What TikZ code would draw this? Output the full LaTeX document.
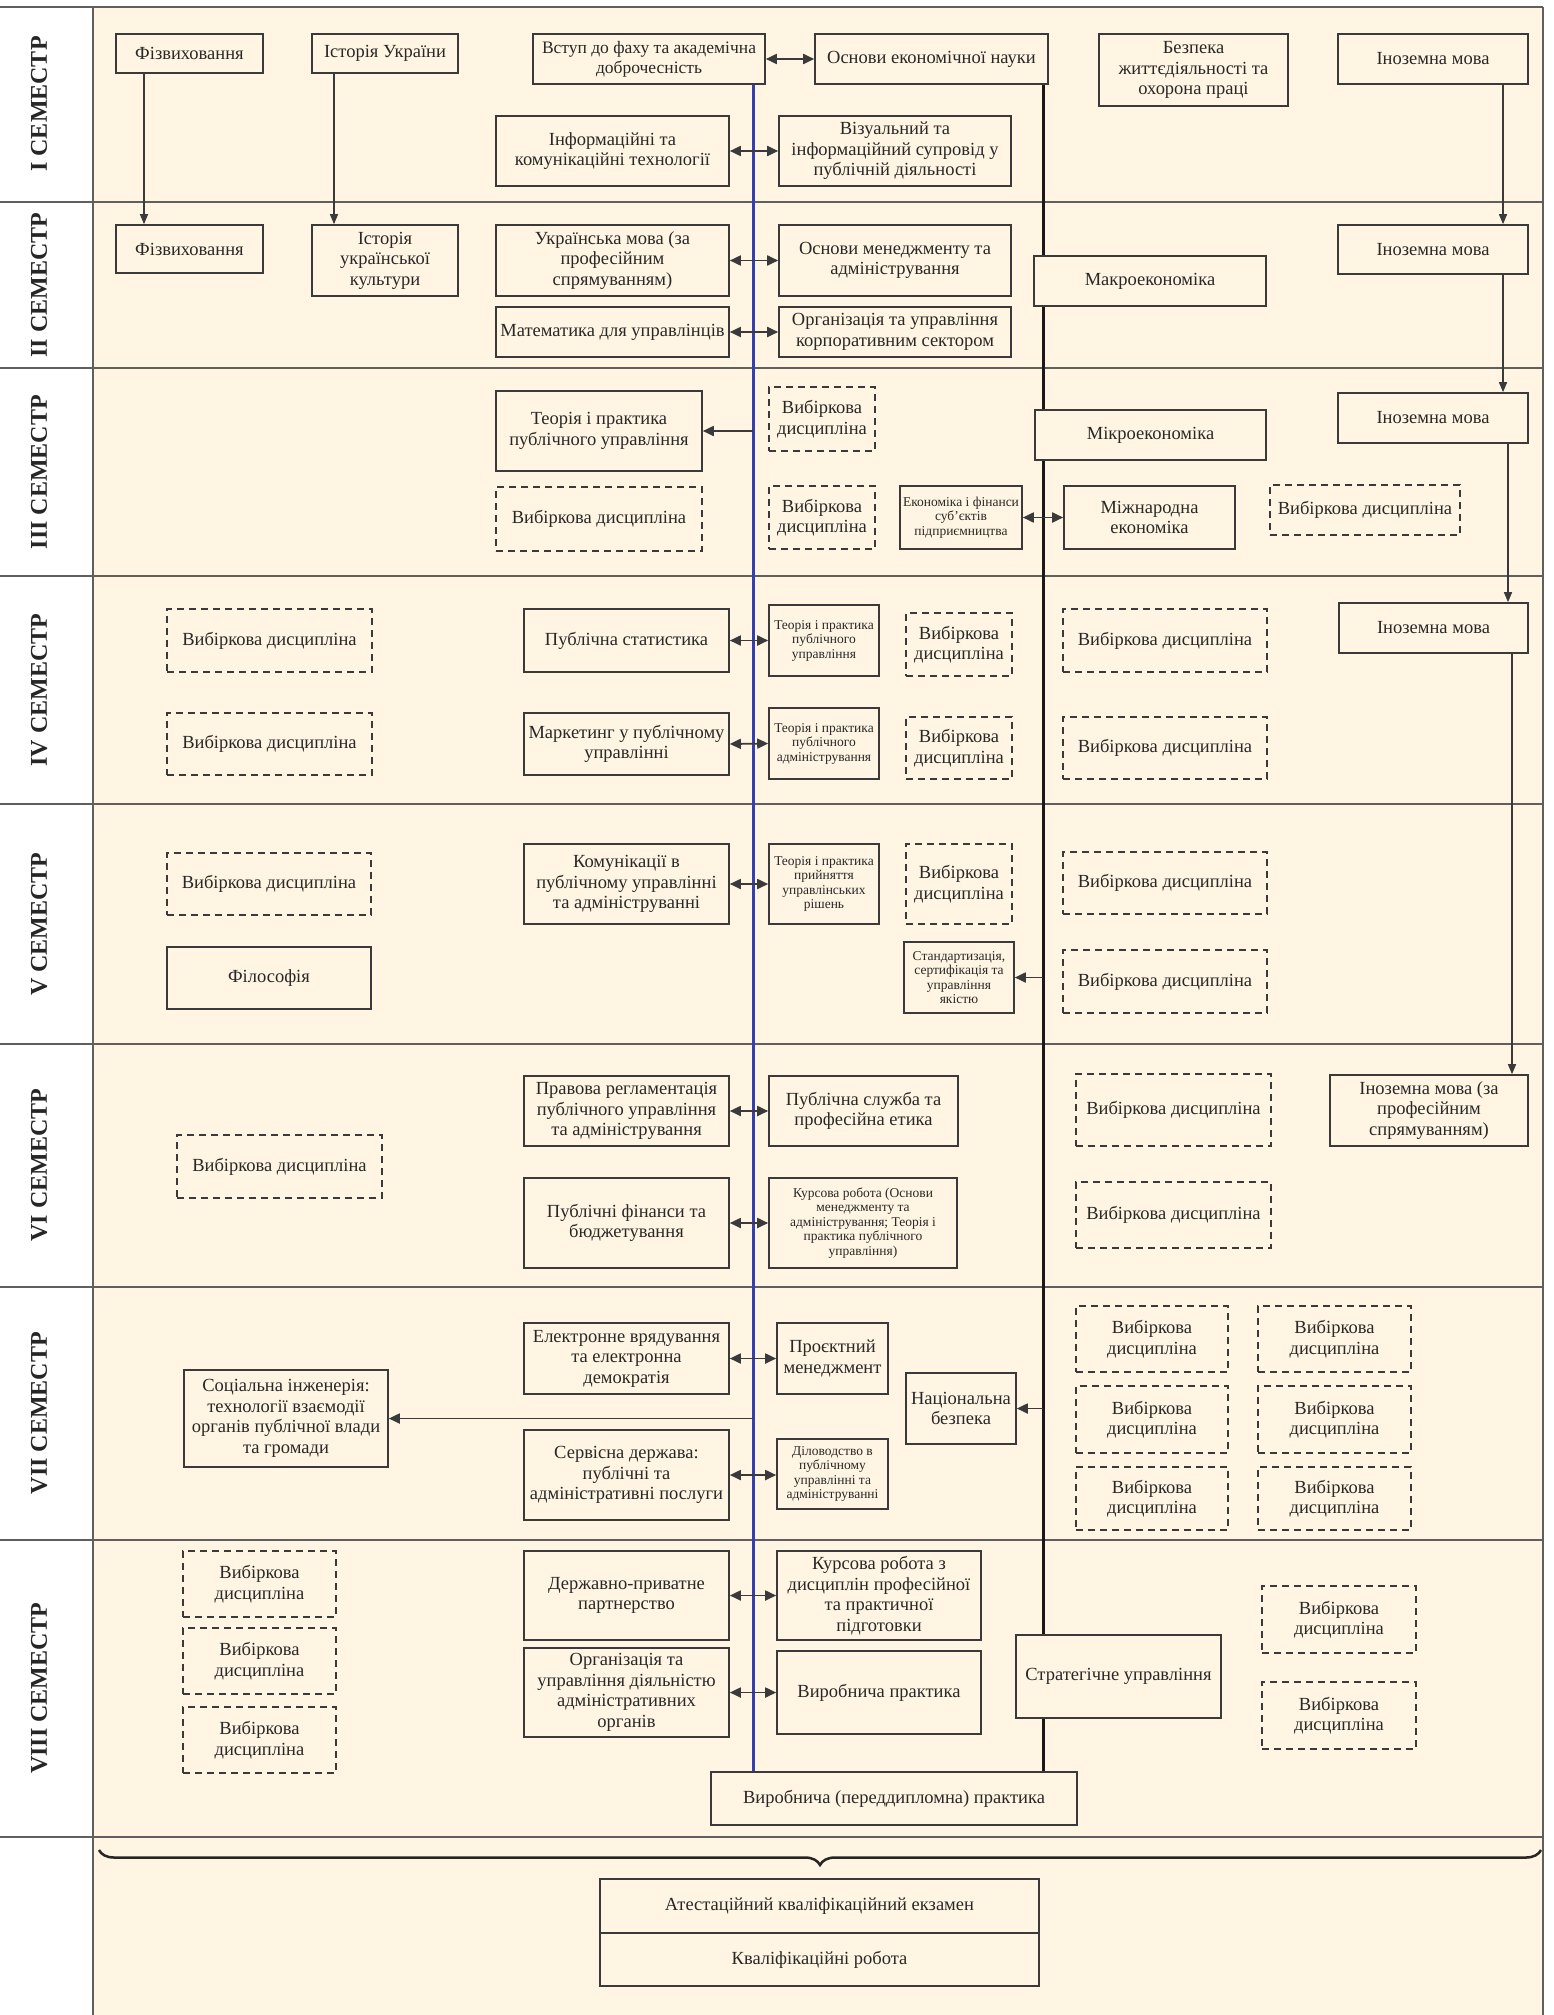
\documentclass[tikz,border=0pt]{standalone}
\usepackage{fontspec}
\setmainfont{Liberation Serif}
\usetikzlibrary{arrows.meta,decorations.pathreplacing}
\pgfdeclarelayer{bgl}
\pgfdeclarelayer{back}
\pgfsetlayers{bgl,back,main}
\definecolor{bg}{RGB}{255,245,226}
\definecolor{ln}{RGB}{58,58,58}
\definecolor{blueln}{RGB}{52,64,178}
\definecolor{txt}{RGB}{40,40,40}
\definecolor{divln}{RGB}{95,95,95}
\newcommand\mkbox[7]{%
  \pgfmathsetmacro\bxw{#5-#3}\pgfmathsetmacro\bxh{#6-#4}%
  \pgfmathsetmacro\bxcx{(#3+#5)/2}\pgfmathsetmacro\bxcy{(#4+#6)/2}%
  \node[#2, minimum width=\bxw pt, minimum height=\bxh pt] (#1) at (\bxcx,\bxcy) {#7};}
\tikzset{
  box/.style={draw=ln, line width=1.6pt, fill=bg, inner sep=1pt, align=center, text=txt,
    font=\fontsize{18.5}{20.5}\selectfont},
  sbox/.style={box, font=\fontsize{13.5}{14.5}\selectfont},
  dbox/.style={box, dash pattern=on 7pt off 5pt, line width=1.5pt},
  dblarr/.style={{Triangle[length=11pt,width=10pt]}-{Triangle[length=11pt,width=10pt]}, line width=1.8pt, draw=ln},
  onearr/.style={-{Triangle[length=11pt,width=10pt]}, line width=1.8pt, draw=ln},
  chainarr/.style={-{Triangle[length=10pt,width=8pt]}, line width=1.3pt, draw=ln},
  rowln/.style={line width=1.3pt, draw=divln},
  semlab/.style={rotate=90, font=\bfseries\fontsize{24}{28}\selectfont, text=black!85},
  blueline/.style={line width=3pt, draw=blueln},
  blackline/.style={line width=3pt, draw=black!90},
}
\begin{document}
\begin{tikzpicture}[x=1pt,y=-1pt]
\useasboundingbox (0,0) rectangle (1553,2015);
\begin{pgfonlayer}{bgl}
\fill[white] (0,0) rectangle (1553,2015);
\fill[bg] (93,7) rectangle (1543,2015);
\foreach \yy in {7,202,368,576,804,1044,1287,1540,1837}{\draw[rowln] (0,\yy) -- (1543,\yy);}
\draw[rowln] (93,7) -- (93,2015);
\draw[rowln] (1543,7) -- (1543,2015);
\end{pgfonlayer}

% semester labels
\node[semlab] (s1) at (39,104) {I СЕМЕСТР};
\node[semlab] (s2) at (39,285) {II СЕМЕСТР};
\node[semlab] (s3) at (39,472) {III СЕМЕСТР};
\node[semlab] (s4) at (39,690) {IV СЕМЕСТР};
\node[semlab] (s5) at (39,924) {V СЕМЕСТР};
\node[semlab] (s6) at (39,1165) {VI СЕМЕСТР};
\node[semlab] (s7) at (39,1413) {VII СЕМЕСТР};
\node[semlab] (s8) at (39,1688) {VIII СЕМЕСТР};

% Row I
\mkbox{fizA}{box}{116}{34}{263}{73}{Фізвиховання}
\mkbox{istA}{box}{312}{34}{458}{73}{Історія України}
\mkbox{vstup}{box,font=\fontsize{17.5}{20}\selectfont}{533}{34}{765}{84}{Вступ до фаху та академічна\\доброчесність}
\mkbox{osnek}{box}{815}{34}{1048}{84}{Основи економічної науки}
\mkbox{bezp}{box}{1099}{34}{1288}{106}{Безпека\\життєдіяльності та\\охорона праці}
\mkbox{inA}{box}{1338}{34}{1528}{84}{Іноземна мова}
\mkbox{infk}{box}{496}{116}{729}{186}{Інформаційні та\\комунікаційні технології}
\mkbox{viz}{box}{779}{116}{1011}{186}{Візуальний та\\інформаційний супровід у\\публічній діяльності}

% Row II
\mkbox{fizB}{box}{116}{225}{263}{273}{Фізвиховання}
\mkbox{istB}{box}{312}{225}{458}{296}{Історія\\української\\культури}
\mkbox{ukr}{box}{496}{225}{729}{296}{Українська мова (за\\професійним\\спрямуванням)}
\mkbox{osnmen}{box}{779}{225}{1011}{296}{Основи менеджменту та\\адміністрування}
\mkbox{mat}{box}{496}{307}{729}{357}{Математика для управлінців}
\mkbox{orgk}{box}{779}{307}{1011}{357}{Організація та управління\\корпоративним сектором}
\mkbox{makro}{box}{1034}{256}{1266}{306}{Макроекономіка}
\mkbox{inB}{box}{1338}{225}{1528}{274}{Іноземна мова}

% Row III
\mkbox{tppu}{box}{496}{391}{702}{471}{Теорія і практика\\публічного управління}
\mkbox{v3a}{dbox}{496}{487}{702}{551}{Вибіркова дисципліна}
\mkbox{v3b}{dbox}{769}{387}{875}{451}{Вибіркова\\дисципліна}
\mkbox{v3c}{dbox}{769}{486}{875}{549}{Вибіркова\\дисципліна}
\mkbox{ekon}{sbox}{900}{486}{1022}{549}{Економіка і фінанси\\суб’єктів\\підприємництва}
\mkbox{mikro}{box}{1035}{410}{1266}{460}{Мікроекономіка}
\mkbox{mizh}{box}{1064}{486}{1235}{549}{Міжнародна\\економіка}
\mkbox{v3d}{dbox}{1270}{485}{1460}{535}{Вибіркова дисципліна}
\mkbox{inC}{box}{1338}{393}{1528}{443}{Іноземна мова}

% Row IV
\mkbox{v4a}{dbox}{167}{609}{372}{672}{Вибіркова дисципліна}
\mkbox{v4b}{dbox}{167}{713}{372}{775}{Вибіркова дисципліна}
\mkbox{pubstat}{box}{524}{609}{729}{672}{Публічна статистика}
\mkbox{market}{box}{524}{713}{729}{775}{Маркетинг у публічному\\управлінні}
\mkbox{tpu}{sbox}{769}{605}{879}{676}{Теорія і практика\\публічного\\управління}
\mkbox{tpa}{sbox}{769}{708}{879}{779}{Теорія і практика\\публічного\\адміністрування}
\mkbox{v4c}{dbox}{906}{613}{1012}{676}{Вибіркова\\дисципліна}
\mkbox{v4d}{dbox}{906}{717}{1012}{779}{Вибіркова\\дисципліна}
\mkbox{v4e}{dbox}{1063}{609}{1267}{672}{Вибіркова дисципліна}
\mkbox{v4f}{dbox}{1063}{717}{1267}{779}{Вибіркова дисципліна}
\mkbox{inD}{box}{1339}{603}{1528}{653}{Іноземна мова}

% Row V
\mkbox{v5a}{dbox}{167}{853}{371}{915}{Вибіркова дисципліна}
\mkbox{filos}{box}{167}{947}{371}{1009}{Філософія}
\mkbox{komun}{box}{524}{844}{729}{924}{Комунікації в\\публічному управлінні\\та адмініструванні}
\mkbox{tpr}{sbox}{769}{844}{879}{924}{Теорія і практика\\прийняття\\управлінських\\рішень}
\mkbox{v5b}{dbox}{906}{844}{1012}{924}{Вибіркова\\дисципліна}
\mkbox{stand}{sbox}{904}{942}{1014}{1013}{Стандартизація,\\сертифікація та\\управління\\якістю}
\mkbox{v5c}{dbox}{1063}{852}{1267}{914}{Вибіркова дисципліна}
\mkbox{v5d}{dbox}{1063}{950}{1267}{1013}{Вибіркова дисципліна}

% Row VI
\mkbox{v6a}{dbox}{177}{1135}{382}{1198}{Вибіркова дисципліна}
\mkbox{prav}{box}{524}{1076}{729}{1146}{Правова регламентація\\публічного управління\\та адміністрування}
\mkbox{pubfin}{box}{524}{1178}{729}{1268}{Публічні фінанси та\\бюджетування}
\mkbox{pubsl}{box}{769}{1076}{958}{1146}{Публічна служба та\\професійна етика}
\mkbox{kurs}{sbox}{769}{1178}{957}{1268}{Курсова робота (Основи\\менеджменту та\\адміністрування; Теорія і\\практика публічного\\управління)}
\mkbox{v6b}{dbox}{1076}{1074}{1271}{1146}{Вибіркова дисципліна}
\mkbox{v6c}{dbox}{1076}{1182}{1271}{1248}{Вибіркова дисципліна}
\mkbox{inF}{box}{1330}{1075}{1528}{1146}{Іноземна мова (за\\професійним\\спрямуванням)}

% Row VII
\mkbox{soc}{box}{184}{1370}{388}{1467}{Соціальна інженерія:\\технології взаємодії\\органів публічної влади\\та громади}
\mkbox{elek}{box}{524}{1323}{729}{1394}{Електронне врядування\\та електронна\\демократія}
\mkbox{serv}{box}{524}{1430}{729}{1520}{Сервісна держава:\\публічні та\\адміністративні послуги}
\mkbox{proek}{box}{777}{1323}{888}{1394}{Проєктний\\менеджмент}
\mkbox{dilo}{sbox}{777}{1439}{888}{1509}{Діловодство в\\публічному\\управлінні та\\адмініструванні}
\mkbox{nats}{box}{906}{1373}{1016}{1444}{Національна\\безпека}
\mkbox{v7a}{dbox}{1076}{1306}{1228}{1372}{Вибіркова\\дисципліна}
\mkbox{v7b}{dbox}{1258}{1306}{1411}{1372}{Вибіркова\\дисципліна}
\mkbox{v7c}{dbox}{1076}{1386}{1228}{1453}{Вибіркова\\дисципліна}
\mkbox{v7d}{dbox}{1258}{1386}{1411}{1453}{Вибіркова\\дисципліна}
\mkbox{v7e}{dbox}{1076}{1467}{1228}{1530}{Вибіркова\\дисципліна}
\mkbox{v7f}{dbox}{1258}{1467}{1411}{1530}{Вибіркова\\дисципліна}

% Row VIII
\mkbox{v8a}{dbox}{183}{1551}{336}{1617}{Вибіркова\\дисципліна}
\mkbox{v8b}{dbox}{183}{1628}{336}{1694}{Вибіркова\\дисципліна}
\mkbox{v8c}{dbox}{183}{1707}{336}{1773}{Вибіркова\\дисципліна}
\mkbox{derzh}{box}{524}{1551}{729}{1640}{Державно-приватне\\партнерство}
\mkbox{orgd}{box}{524}{1648}{729}{1737}{Організація та\\управління діяльністю\\адміністративних\\органів}
\mkbox{kurs2}{box}{777}{1551}{981}{1640}{Курсова робота з\\дисциплін професійної\\та практичної\\підготовки}
\mkbox{vyrp}{box}{777}{1651}{981}{1734}{Виробнича практика}
\mkbox{strat}{box}{1016}{1635}{1221}{1718}{Стратегічне управління}
\mkbox{v8d}{dbox}{1262}{1586}{1416}{1653}{Вибіркова\\дисципліна}
\mkbox{v8e}{dbox}{1262}{1682}{1416}{1749}{Вибіркова\\дисципліна}
\mkbox{vyrpd}{box}{711}{1772}{1077}{1825}{Виробнича (переддипломна) практика}

% Bottom
\mkbox{atest}{box}{600}{1879}{1039}{1933}{Атестаційний кваліфікаційний екзамен}
\mkbox{kval}{box}{600}{1933}{1039}{1986}{Кваліфікаційні робота}

% helper coordinates
\coordinate (bl) at (753,0);
\coordinate (kl) at (1043,0);
\coordinate (cfz) at (144,0);
\coordinate (cis) at (334,0);
\coordinate (ci1) at (1503,0);
\coordinate (ci2) at (1508,0);
\coordinate (ci3) at (1512,0);

\begin{pgfonlayer}{back}
\draw[blueline] (vstup.south -| bl) -- (vyrpd.north -| bl);
\draw[blackline] (osnek.south -| kl) -- (vyrpd.north -| kl);
\end{pgfonlayer}

% chain arrows
\draw[chainarr] (fizA.south -| cfz) -- (fizB.north -| cfz);
\draw[chainarr] (istA.south -| cis) -- (istB.north -| cis);
\draw[chainarr] (inA.south -| ci1) -- (inB.north -| ci1);
\draw[chainarr] (inB.south -| ci1) -- (inC.north -| ci1);
\draw[chainarr] (inC.south -| ci2) -- (inD.north -| ci2);
\draw[chainarr] (inD.south -| ci3) -- (inF.north -| ci3);

% horizontal arrows
\draw[dblarr] (vstup.east) -- (osnek.west);
\draw[dblarr] (infk.east) -- (viz.west);
\draw[dblarr] (ukr.east) -- (osnmen.west);
\draw[dblarr] (mat.east) -- (orgk.west);
\draw[onearr] (tppu.east -| bl) -- (tppu.east);
\draw[dblarr] (ekon.east) -- (mizh.west);
\draw[dblarr] (pubstat.east) -- (tpu.west);
\draw[dblarr] (market.east) -- (tpa.west);
\draw[dblarr] (komun.east) -- (tpr.west);
\draw[onearr] (stand.east -| kl) -- (stand.east);
\draw[dblarr] (prav.east) -- (pubsl.west);
\draw[dblarr] (pubfin.east) -- (kurs.west);
\draw[dblarr] (elek.east) -- (proek.west);
\draw[dblarr] (serv.east) -- (serv.east -| dilo.west);
\draw[onearr] (soc.east -| bl) -- (soc.east);
\draw[onearr] (nats.east -| kl) -- (nats.east);
\draw[dblarr] (derzh.east) -- (kurs2.west);
\draw[dblarr] (orgd.east) -- (vyrp.west);

% brace
\coordinate (brL) at (99,1850);
\coordinate (brR) at (1541,1850);
\draw[decorate, decoration={brace, mirror, amplitude=15pt}, line width=2.5pt, draw=black!85] (brL) -- (brR);
\end{tikzpicture}
\end{document}
